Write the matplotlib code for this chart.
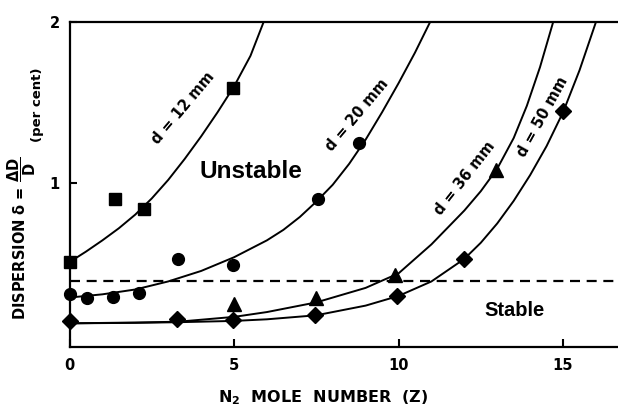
import matplotlib
matplotlib.use("Agg")
import matplotlib.pyplot as plt

# measured points (z = N2 mole number, dispersion in per cent)
sq_x = [0, 1.38, 2.26, 4.98]
sq_y = [0.51, 0.90, 0.84, 1.59]
circ_x = [0, 0.52, 1.33, 2.12, 3.31, 4.98, 7.56, 8.81]
circ_y = [0.31, 0.29, 0.295, 0.32, 0.53, 0.49, 0.90, 1.25]
tri_x = [5.0, 7.5, 9.9, 12.95]
tri_y = [0.25, 0.29, 0.43, 1.08]
dia_x = [0, 3.26, 4.98, 7.46, 9.94, 12.0, 15.0]
dia_y = [0.145, 0.155, 0.15, 0.18, 0.30, 0.53, 1.445]

# fitted curves
c12_x = [0, 0.5, 1, 1.5, 2, 2.5, 3, 3.5, 4, 4.5, 5, 5.5, 5.9]
c12_y = [0.51, 0.575, 0.645, 0.72, 0.805, 0.905, 1.02, 1.15, 1.29, 1.44, 1.60,
         1.79, 2.0]
c20_x = [0, 1, 2, 3, 4, 5, 6, 6.5, 7, 7.5, 8, 8.5, 9, 9.5, 10, 10.5, 10.96]
c20_y = [0.29, 0.31, 0.34, 0.39, 0.455, 0.54, 0.645, 0.71, 0.79, 0.885, 0.99,
         1.12, 1.27, 1.44, 1.62, 1.81, 2.0]
c36_x = [0, 2, 3.3, 5, 6, 7.5, 9, 10, 11, 12, 12.5, 13, 13.5, 13.9, 14.3, 14.7]
c36_y = [0.13, 0.135, 0.14, 0.17, 0.20, 0.26, 0.35, 0.44, 0.62, 0.83, 0.95,
         1.09, 1.28, 1.48, 1.72, 2.0]
c50_x = [0, 2, 3.3, 5, 6, 7.5, 9, 10, 11, 12, 12.5, 13, 13.5, 14, 14.5, 15,
         15.5, 16.0]
c50_y = [0.13, 0.133, 0.137, 0.145, 0.155, 0.18, 0.24, 0.30, 0.39, 0.53, 0.63,
         0.75, 0.89, 1.05, 1.23, 1.44, 1.70, 2.0]

stable_limit = 0.39

fig = plt.figure(figsize=(6.18, 4.09), dpi=100)
ax = fig.add_axes([69.5 / 618, 1 - 346.7 / 409, 1 - 69.5 / 618, (346.7 - 22) / 409])

for cx, cy in [(c12_x, c12_y), (c20_x, c20_y), (c36_x, c36_y), (c50_x, c50_y)]:
    ax.plot(cx, cy, color="black", lw=1.4, zorder=2)

ax.axhline(stable_limit, color="black", lw=1.6, linestyle=(0, (4.5, 3.0)), zorder=1)

ax.plot(sq_x, sq_y, "s", color="black", ms=9, clip_on=False, zorder=3)
ax.plot(circ_x, circ_y, "o", color="black", ms=8.5, clip_on=False, zorder=3)
ax.plot(tri_x, tri_y, "^", color="black", ms=10, clip_on=False, zorder=3)
ax.plot(dia_x, dia_y, "D", color="black", ms=8.5, clip_on=False, zorder=3)

ax.set_xlim(0, 16.67)
ax.set_ylim(-0.015, 2)
ax.set_xticks([0, 5, 10, 15])
ax.set_yticks([1, 2])
ax.tick_params(axis="x", direction="in", length=6, width=1.5, pad=8, labelsize=10.5)
ax.tick_params(axis="y", direction="in", length=5, width=1.5, pad=7, labelsize=10.5)
for lab in ax.get_xticklabels() + ax.get_yticklabels():
    lab.set_fontweight("bold")
for s in ["left", "bottom", "top"]:
    ax.spines[s].set_linewidth(1.6)
ax.spines["right"].set_visible(False)

# curve labels
for txt, x, y, rot in [("d = 12 mm", 3.45, 1.466, 50),
                       ("d = 20 mm", 8.74, 1.42, 50),
                       ("d = 36 mm", 12.02, 1.03, 52),
                       ("d = 50 mm", 14.39, 1.41, 61)]:
    ax.text(x, y, txt, rotation=rot, rotation_mode="anchor", ha="center",
            va="center", fontsize=10.5, fontweight="bold")

ax.text(5.52, 1.07, "Unstable", ha="center", va="center", fontsize=17.5,
        fontweight="bold", family="Liberation Sans")
ax.text(13.54, 0.21, "Stable", ha="center", va="center", fontsize=14.5,
        fontweight="bold", family="Liberation Sans")

fig.text(323 / 618, 1 - 398 / 409, r"N$_\mathbf{2}$  MOLE  NUMBER  (Z)",
         ha="center", va="center", fontsize=11.5, fontweight="bold")
fig.text(22 / 618, 1 - 320 / 409,
         r"DISPERSION $\mathbf{\delta}$ = $\mathbf{\dfrac{\Delta D}{D}}$",
         rotation=90, ha="center", va="bottom", fontsize=10.5, fontweight="bold")
fig.text(38 / 618, 1 - 142 / 409, "(per cent)", rotation=90, ha="center",
         va="bottom", fontsize=9.5, fontweight="bold")

fig.savefig("out.png", dpi=100)
